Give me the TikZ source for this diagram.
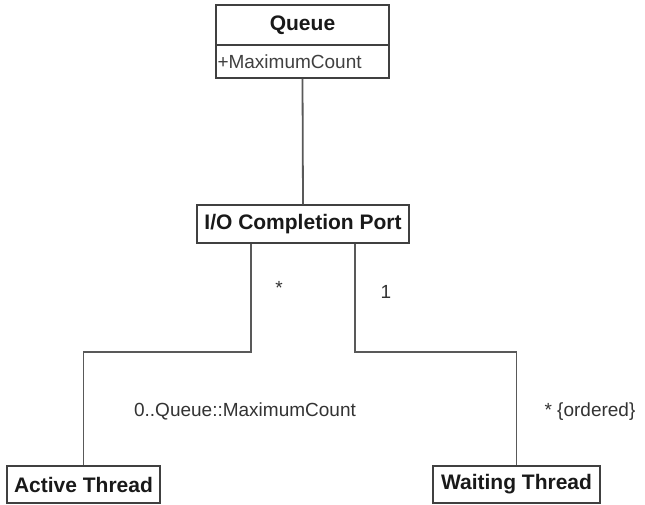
\documentclass[tikz,border=0pt]{standalone}
\usepackage{fontspec}
\setmainfont{Liberation Sans}
\begin{document}
\begin{tikzpicture}[x=1pt,y=-1pt,
  boxline/.style={draw=black!75, line width=1.5pt},
  classbox/.style={boxline, fill=white, inner sep=0pt, font=\fontsize{21}{25}\selectfont\bfseries, text=black!90},
  attrbox/.style={boxline, fill=white, inner sep=0pt, font=\fontsize{19}{22}\selectfont, text=black!75, align=left},
  conn/.style={draw=black!65, line width=1.8pt},
  lbl/.style={inner sep=0pt, font=\fontsize{19}{22}\selectfont, text=black!80}]
\useasboundingbox (0,0) rectangle (645,504);
\fill[white] (0,0) rectangle (645,504);
% Queue class
\node[classbox, minimum width=173pt, minimum height=40pt] (queue) at (302.5,25) {Queue};
\node[attrbox, minimum width=173pt, minimum height=33pt, text width=170pt] (qattr) at (302.5,61.5) {+MaximumCount};
% I/O Completion Port
\node[classbox, minimum width=212pt, minimum height=38pt] (io) at (303,224) {I/O Completion Port};
% Threads
\node[classbox, minimum width=153pt, minimum height=37pt] (active) at (83.5,484.5) {Active Thread};
\node[classbox, minimum width=167pt, minimum height=37pt] (waiting) at (516.5,484.5) {Waiting Thread};
% connectors
\draw[conn] (qattr.south) -- (io.north);
\coordinate (lx) at (251,352);
\coordinate (rx) at (355,352);
\draw[conn] (io.south -| lx) -- (lx) -| (active.north);
\draw[conn] (io.south -| rx) -- (rx) -| (waiting.north);
% labels
\node[lbl] (m1) at (279,288) {*};
\node[lbl] (m2) at (386,292) {1};
\node[lbl] (m3) at (245,411) {0..Queue::MaximumCount};
\node[lbl] (m4) at (590,412) {* \{ordered\}};
\end{tikzpicture}
\end{document}
